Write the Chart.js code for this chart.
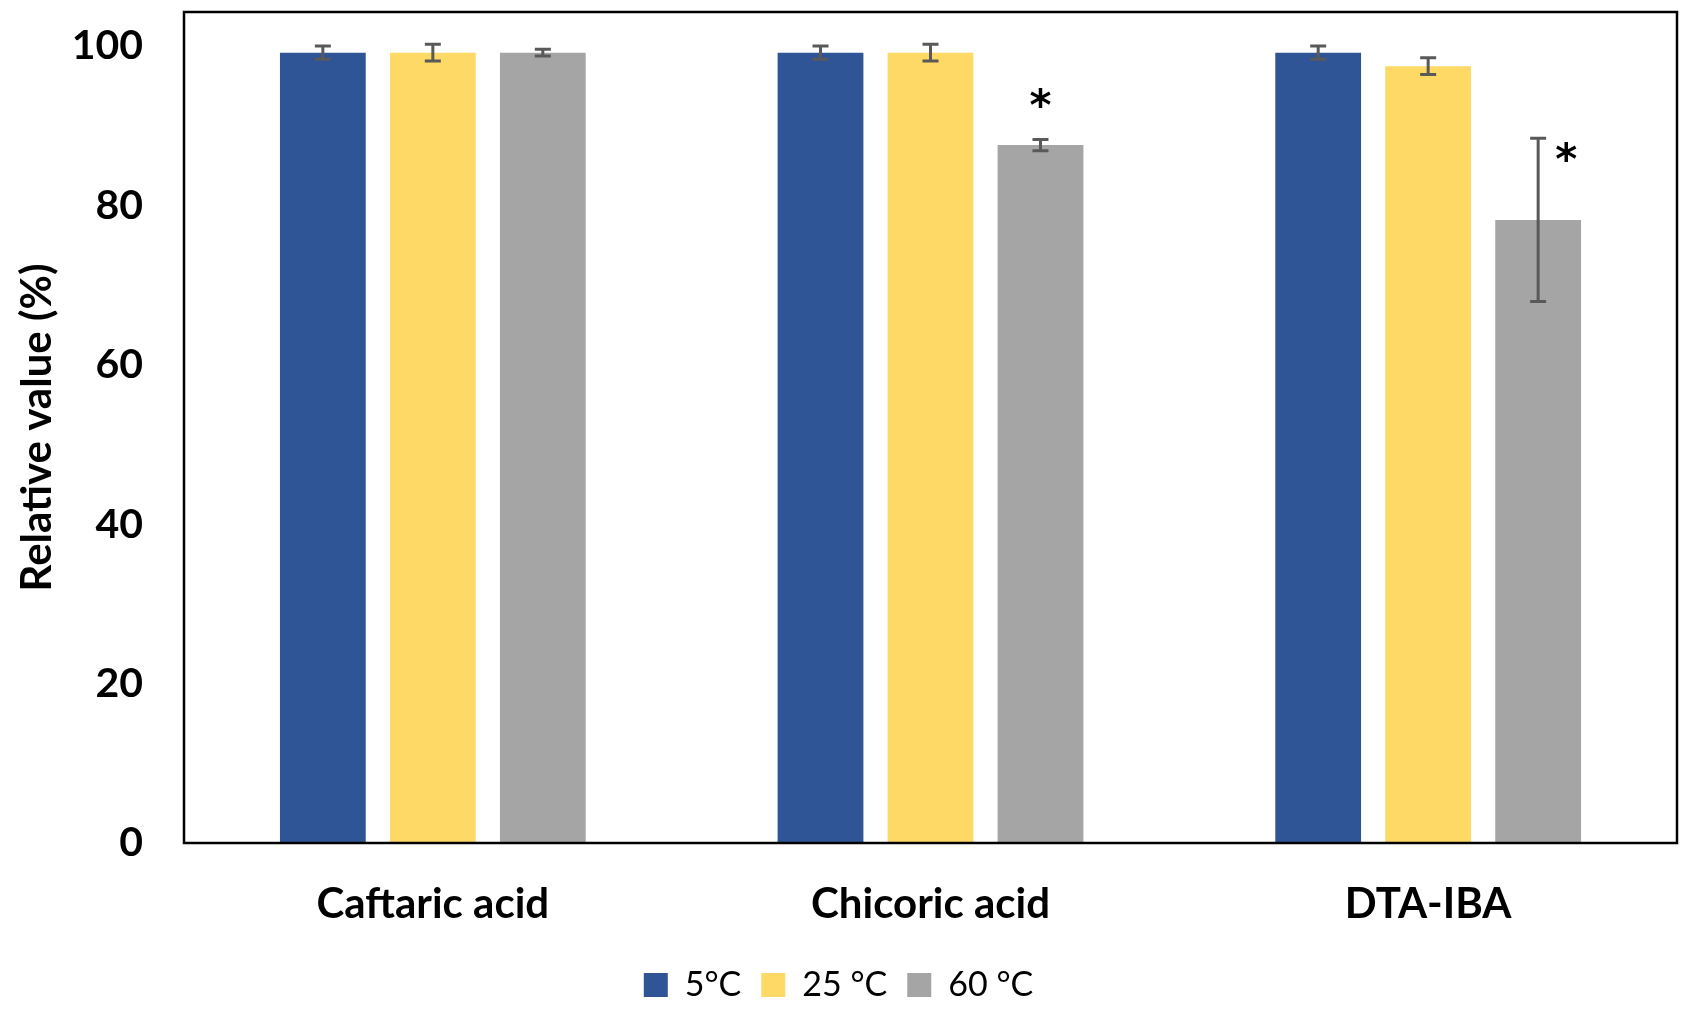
<!DOCTYPE html>
<html>
<head>
<meta charset="utf-8">
<script src="https://cdn.jsdelivr.net/npm/chart.js@4.4.1/dist/chart.umd.min.js"></script>
<style>
  body { margin: 0; background: #fff; }
  #chart { display: block; }
</style>
</head>
<body>
<canvas id="chart" width="1688" height="1012"></canvas>
<script>
// data
const categories = ['Caftaric acid', 'Chicoric acid', 'DTA-IBA'];
const seriesNames = ['5°C', '25 °C', '60 °C'];
const values5 = [99.2, 99.2, 99.2];
const values25 = [99.2, 99.2, 97.5];
const values60 = [99.2, 87.6, 78.2];
const err5 = [0.84, 0.82, 0.84];
const err25 = [1.05, 1.05, 1.05];
const err60 = [0.42, 0.7, 10.25];
const signif60 = ['', '*', '*'];
const yTicks = [0, 20, 40, 60, 80, 100];

const colors = ['#2F5597', '#FED966', '#A5A5A5'];
const allValues = [values5, values25, values60];
const allErrors = [err5, err25, err60];
const allSignif = [['', '', ''], ['', '', ''], signif60];
// where each star sits relative to the top of its error bar (px)
const starOffsets = [null, { dx: 0, dy: -41 }, { dx: 28, dy: 14 }];

const errorBars = {
  id: 'errorBars',
  afterDatasetsDraw(chart) {
    const ctx = chart.ctx;
    const y = chart.scales.y;
    ctx.save();
    ctx.strokeStyle = '#595959';
    ctx.lineWidth = 3;
    allValues.forEach((vals, i) => {
      const meta = chart.getDatasetMeta(i);
      meta.data.forEach((bar, j) => {
        const top = y.getPixelForValue(vals[j] + allErrors[i][j]);
        const bot = y.getPixelForValue(vals[j] - allErrors[i][j]);
        ctx.beginPath();
        ctx.moveTo(bar.x, top); ctx.lineTo(bar.x, bot);
        ctx.moveTo(bar.x - 8, top); ctx.lineTo(bar.x + 8, top);
        ctx.moveTo(bar.x - 8, bot); ctx.lineTo(bar.x + 8, bot);
        ctx.stroke();

        const s = allSignif[i][j];
        if (s) {
          const off = starOffsets[j];
          ctx.fillStyle = '#000';
          ctx.font = 'bold 42px "DejaVu Sans"';
          ctx.textAlign = 'center';
          ctx.textBaseline = 'alphabetic';
          const m = ctx.measureText(s);
          const mid = (m.actualBoundingBoxAscent - m.actualBoundingBoxDescent) / 2;
          ctx.fillText(s, bar.x + off.dx, top + off.dy + mid);
        }
      });
    });
    // plot frame
    const a = chart.chartArea;
    ctx.strokeStyle = '#000';
    ctx.lineWidth = 2.5;
    ctx.strokeRect(a.left, a.top, a.right - a.left, a.bottom - a.top);
    ctx.restore();
  }
};

new Chart(document.getElementById('chart'), {
  type: 'bar',
  data: {
    labels: categories,
    datasets: seriesNames.map((name, i) => ({
      label: name,
      data: allValues[i],
      backgroundColor: colors[i],
      borderWidth: 0,
      categoryPercentage: 0.663,
      barPercentage: 0.78
    }))
  },
  options: {
    responsive: false,
    animation: false,
    devicePixelRatio: 1,
    layout: { padding: { top: 12, right: 11, left: 0, bottom: 0 } },
    plugins: {
      tooltip: { enabled: false },
      legend: {
        position: 'bottom',
        labels: {
          boxWidth: 24,
          boxHeight: 24,
          padding: 20,
          color: '#000',
          font: { family: 'Lato', size: 34 }
        }
      }
    },
    scales: {
      x: {
        grid: { display: false },
        border: { display: false },
        ticks: {
          color: '#000',
          padding: 28,
          font: { family: 'Lato', size: 42, weight: 'bold' }
        },
        afterFit(scale) {
          scale.paddingLeft = 0;
          scale.paddingRight = 0;
          scale.height = 1012 - 843 - scale.chart.legend.height;
        }
      },
      y: {
        min: 0,
        max: 104.3,
        grid: { display: false },
        border: { display: false },
        afterBuildTicks(scale) {
          scale.ticks = yTicks.map(v => ({ value: v }));
        },
        ticks: {
          color: '#000',
          padding: 33,
          font: { family: 'Lato', size: 41, weight: 'bold' }
        },
        title: {
          display: true,
          text: 'Relative value (%)',
          color: '#000',
          padding: { top: 12, bottom: 0 },
          font: { family: 'Lato', size: 42, weight: 'bold' }
        },
        afterFit(scale) {
          scale.paddingTop = 0;
          scale.paddingBottom = 0;
          scale.width = 184;
        }
      }
    }
  },
  plugins: [errorBars]
});
</script>
</body>
</html>
